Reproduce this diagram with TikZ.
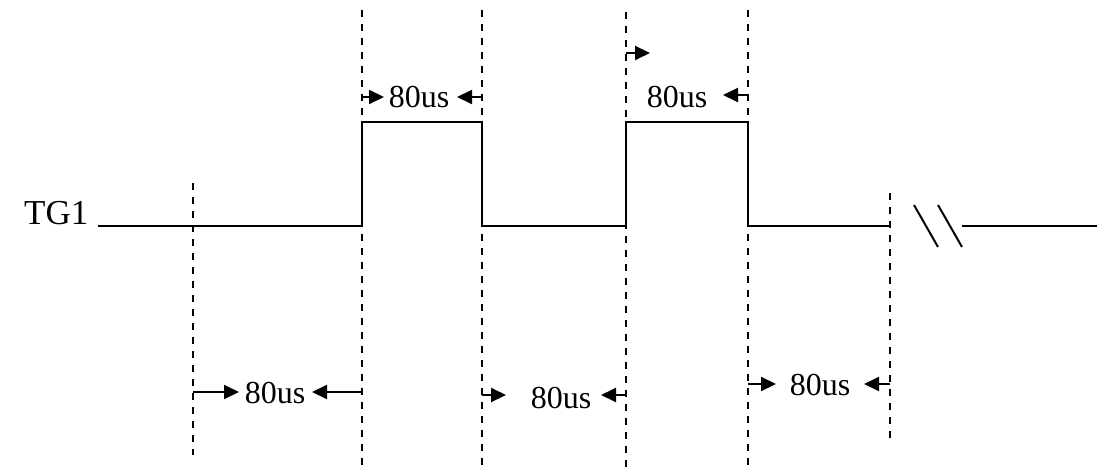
\documentclass[tikz,border=0pt]{standalone}
\usepackage{fontspec}
\setmainfont{Liberation Serif}
\usetikzlibrary{arrows.meta}
\begin{document}
\begin{tikzpicture}[x=1pt,y=-1pt,
  sig/.style={line width=2.2pt},
  guide/.style={line width=2pt,dash pattern=on 7pt off 7pt},
  dim/.style={line width=2pt,-{Triangle[length=15pt,width=14pt]}},
  lab/.style={font=\fontsize{32}{32}\selectfont,inner sep=0pt},
  tg/.style={font=\fontsize{35}{35}\selectfont,inner sep=0pt}]
\useasboundingbox (0,0) rectangle (1099,468);
% signal
\coordinate (s0) at (98,226);
\coordinate (r1a) at (362,226); \coordinate (r1b) at (362,122);
\coordinate (f1a) at (482,122); \coordinate (f1b) at (482,226);
\coordinate (r2a) at (626,226); \coordinate (r2b) at (626,122);
\coordinate (f2a) at (748,122); \coordinate (f2b) at (748,226);
\coordinate (e1) at (890,226);
\coordinate (e2) at (962,226); \coordinate (e3) at (1097,226);
\draw[sig] (s0) -- (r1a) -- (r1b) -- (f1a) -- (f1b) -- (r2a) -- (r2b) -- (f2a) -- (f2b) -- (e1);
\draw[sig] (e2) -- (e3);
\coordinate (b1a) at (914,205); \coordinate (b1b) at (938,247);
\coordinate (b2a) at (938,205); \coordinate (b2b) at (962,247);
\draw[line width=2pt] (b1a) -- (b1b);
\draw[line width=2pt] (b2a) -- (b2b);
\node[tg,anchor=base west] (tg1) at (24,224) {TG1};
% guides
\coordinate (g0t) at (193,183); \coordinate (g0b) at (193,455);
\coordinate (g1t) at (362,10);  \coordinate (g1b) at (362,468);
\coordinate (g2t) at (482,10);  \coordinate (g2b) at (482,468);
\coordinate (g3t) at (626,12);  \coordinate (g3b) at (626,468);
\coordinate (g4t) at (748,10);  \coordinate (g4b) at (748,468);
\coordinate (g5t) at (890,193); \coordinate (g5b) at (890,440);
\foreach \g in {0,...,5} \draw[guide] (g\g t) -- (g\g b);
% top labels
\node[lab] (t1) at (419,97) {80us};
\coordinate (t1l) at (362,97); \coordinate (t1lt) at (384,97);
\coordinate (t1r) at (482,97); \coordinate (t1rt) at (457,97);
\draw[dim] (t1l) -- (t1lt);
\draw[dim] (t1r) -- (t1rt);
\node[lab] (t2) at (677,97) {80us};
\coordinate (t2l) at (626,53); \coordinate (t2lt) at (650,53);
\coordinate (t2r) at (748,95); \coordinate (t2rt) at (723,95);
\draw[dim] (t2l) -- (t2lt);
\draw[dim] (t2r) -- (t2rt);
% bottom labels
\node[lab] (u1) at (275,393) {80us};
\coordinate (u1l) at (193,392); \coordinate (u1lt) at (239,392);
\coordinate (u1r) at (362,392); \coordinate (u1rt) at (312,392);
\draw[dim] (u1l) -- (u1lt);
\draw[dim] (u1r) -- (u1rt);
\node[lab] (u2) at (561,398) {80us};
\coordinate (u2l) at (482,395); \coordinate (u2lt) at (506,395);
\coordinate (u2r) at (626,395); \coordinate (u2rt) at (601,395);
\draw[dim] (u2l) -- (u2lt);
\draw[dim] (u2r) -- (u2rt);
\node[lab] (u3) at (820,385) {80us};
\coordinate (u3l) at (748,384); \coordinate (u3lt) at (776,384);
\coordinate (u3r) at (890,384); \coordinate (u3rt) at (864,384);
\draw[dim] (u3l) -- (u3lt);
\draw[dim] (u3r) -- (u3rt);
\end{tikzpicture}
\end{document}
